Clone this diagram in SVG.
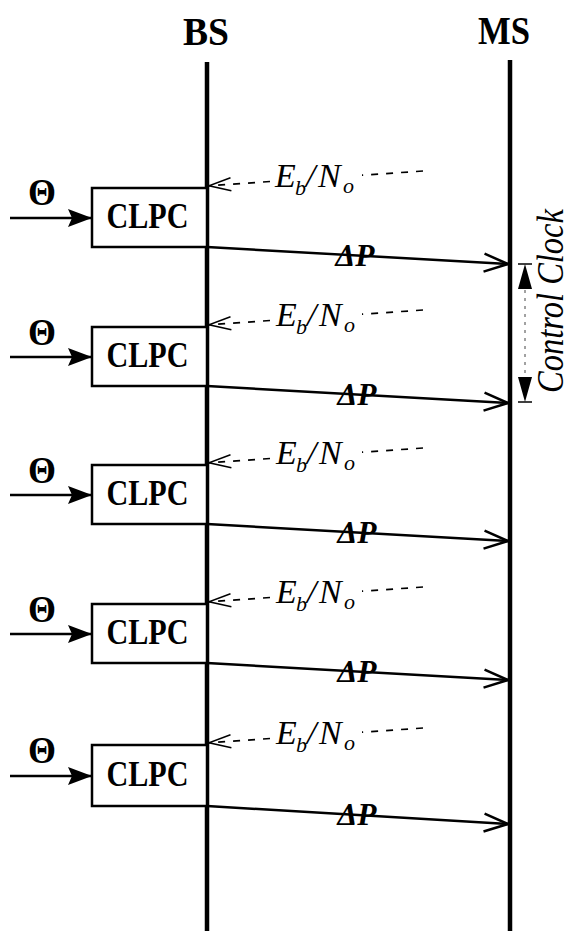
<svg xmlns="http://www.w3.org/2000/svg" width="574" height="931" viewBox="0 0 574 931">
<style>
  text { font-family: "Liberation Serif", "Times New Roman", serif; fill: #000; }
  .hdr { font-size: 39px; font-weight: bold; }
  .clpc { font-size: 36px; font-weight: bold; }
  .theta { font-size: 38px; font-weight: bold; }
  .it { font-style: italic; font-size: 34px; }
  .sub { font-style: italic; font-size: 22px; }
  .dp { font-style: italic; font-weight: bold; font-size: 32px; }
  .cc { font-style: italic; font-size: 37px; }
  .box { fill: #fff; stroke: #000; stroke-width: 2.5; }
  .life { stroke: #000; stroke-width: 4.5; fill: none; }
  .sol { stroke: #000; stroke-width: 2.5; fill: none; }
  .dash { stroke: #000; stroke-width: 1.7; fill: none; stroke-dasharray: 7 8; }
</style>
<defs>
  <marker id="solidHead" markerUnits="userSpaceOnUse" viewBox="0 0 24 20" markerWidth="24" markerHeight="20" refX="23" refY="10" orient="auto">
    <path d="M0,1 L24,10 L0,19 L4,10 z" fill="#000"/>
  </marker>
  <marker id="openHead" markerUnits="userSpaceOnUse" viewBox="-3 -3 30 24" markerWidth="30" markerHeight="24" refX="24" refY="9" orient="auto">
    <path d="M0,0 L24,9 L0,18" fill="none" stroke="#000" stroke-width="2.5"/>
  </marker>
  <marker id="thinOpen" markerUnits="userSpaceOnUse" viewBox="-2 -2 26 17" markerWidth="26" markerHeight="17" refX="22" refY="6.5" orient="auto">
    <path d="M0,0 L22,6.5 L0,13" fill="none" stroke="#000" stroke-width="1.5"/>
  </marker>
</defs>
<rect width="574" height="931" fill="#fff"/>

<g id="BS">
  <text class="hdr" x="206" y="45" text-anchor="middle" textLength="46" lengthAdjust="spacingAndGlyphs">BS</text>
  <line class="life" x1="207" y1="62" x2="207" y2="931"/>
</g>
<g id="MS">
  <text class="hdr" x="504" y="44" text-anchor="middle" textLength="52" lengthAdjust="spacingAndGlyphs">MS</text>
  <line class="life" x1="510" y1="60" x2="510" y2="931"/>
</g>

<g id="clpc1">
  <rect class="box" x="92" y="188" width="115" height="59"/>
  <text class="clpc" x="147.5" y="228" text-anchor="middle" textLength="82" lengthAdjust="spacingAndGlyphs">CLPC</text>
</g>
<g id="clpc2">
  <rect class="box" x="92" y="327" width="115" height="59"/>
  <text class="clpc" x="147.5" y="367" text-anchor="middle" textLength="82" lengthAdjust="spacingAndGlyphs">CLPC</text>
</g>
<g id="clpc3">
  <rect class="box" x="92" y="465" width="115" height="59"/>
  <text class="clpc" x="147.5" y="505" text-anchor="middle" textLength="82" lengthAdjust="spacingAndGlyphs">CLPC</text>
</g>
<g id="clpc4">
  <rect class="box" x="92" y="604" width="115" height="59"/>
  <text class="clpc" x="147.5" y="644" text-anchor="middle" textLength="82" lengthAdjust="spacingAndGlyphs">CLPC</text>
</g>
<g id="clpc5">
  <rect class="box" x="92" y="745" width="115" height="61"/>
  <text class="clpc" x="147.5" y="786" text-anchor="middle" textLength="82" lengthAdjust="spacingAndGlyphs">CLPC</text>
</g>

<g id="connectors">
  <!-- theta inputs -->
  <line class="sol" x1="10" y1="218" x2="91" y2="218" marker-end="url(#solidHead)"/>
  <line class="sol" x1="10" y1="357" x2="91" y2="357" marker-end="url(#solidHead)"/>
  <line class="sol" x1="10" y1="495" x2="91" y2="495" marker-end="url(#solidHead)"/>
  <line class="sol" x1="10" y1="634" x2="91" y2="634" marker-end="url(#solidHead)"/>
  <line class="sol" x1="10" y1="776" x2="91" y2="776" marker-end="url(#solidHead)"/>
  <!-- Delta P -->
  <line class="sol" x1="207" y1="247" x2="508" y2="264" marker-end="url(#openHead)"/>
  <line class="sol" x1="207" y1="386" x2="508" y2="403" marker-end="url(#openHead)"/>
  <line class="sol" x1="207" y1="524" x2="508" y2="541" marker-end="url(#openHead)"/>
  <line class="sol" x1="207" y1="663" x2="508" y2="680" marker-end="url(#openHead)"/>
  <line class="sol" x1="207" y1="806" x2="508" y2="824" marker-end="url(#openHead)"/>
  <!-- Eb/No dashed feedback -->
  <line class="dash" x1="423" y1="171" x2="362" y2="175.2"/>
  <line class="dash" x1="270" y1="181.5" x2="209" y2="185.8" marker-end="url(#thinOpen)"/>
  <line class="dash" x1="423" y1="310" x2="362" y2="314.2"/>
  <line class="dash" x1="270" y1="320.5" x2="209" y2="324.8" marker-end="url(#thinOpen)"/>
  <line class="dash" x1="423" y1="448" x2="362" y2="452.2"/>
  <line class="dash" x1="270" y1="458.5" x2="209" y2="462.8" marker-end="url(#thinOpen)"/>
  <line class="dash" x1="423" y1="587" x2="362" y2="591.2"/>
  <line class="dash" x1="270" y1="597.5" x2="209" y2="601.8" marker-end="url(#thinOpen)"/>
  <line class="dash" x1="423" y1="728" x2="362" y2="732.2"/>
  <line class="dash" x1="270" y1="738.5" x2="209" y2="742.8" marker-end="url(#thinOpen)"/>
</g>

<g id="labels">
  <text class="theta" x="42" y="205" text-anchor="middle" textLength="28" lengthAdjust="spacingAndGlyphs">Θ</text>
  <text class="theta" x="42" y="345" text-anchor="middle" textLength="28" lengthAdjust="spacingAndGlyphs">Θ</text>
  <text class="theta" x="42" y="483" text-anchor="middle" textLength="28" lengthAdjust="spacingAndGlyphs">Θ</text>
  <text class="theta" x="42" y="622" text-anchor="middle" textLength="28" lengthAdjust="spacingAndGlyphs">Θ</text>
  <text class="theta" x="42" y="763" text-anchor="middle" textLength="28" lengthAdjust="spacingAndGlyphs">Θ</text>

  <text class="dp" x="355" y="266" text-anchor="middle" textLength="39" lengthAdjust="spacingAndGlyphs">ΔP</text>
  <text class="dp" x="357" y="405" text-anchor="middle" textLength="39" lengthAdjust="spacingAndGlyphs">ΔP</text>
  <text class="dp" x="357" y="543" text-anchor="middle" textLength="39" lengthAdjust="spacingAndGlyphs">ΔP</text>
  <text class="dp" x="357" y="682" text-anchor="middle" textLength="39" lengthAdjust="spacingAndGlyphs">ΔP</text>
  <text class="dp" x="357" y="825" text-anchor="middle" textLength="39" lengthAdjust="spacingAndGlyphs">ΔP</text>

  <g id="ebno1"><text class="it" x="275" y="187">E</text><text class="sub" x="295" y="195">b</text><text class="it" x="306" y="187">/</text><text class="it" x="318" y="187">N</text><text class="sub" x="343" y="193">o</text></g>
  <g id="ebno2"><text class="it" x="276" y="326">E</text><text class="sub" x="296" y="334">b</text><text class="it" x="307" y="326">/</text><text class="it" x="319" y="326">N</text><text class="sub" x="344" y="332">o</text></g>
  <g id="ebno3"><text class="it" x="276" y="464">E</text><text class="sub" x="296" y="472">b</text><text class="it" x="307" y="464">/</text><text class="it" x="319" y="464">N</text><text class="sub" x="344" y="470">o</text></g>
  <g id="ebno4"><text class="it" x="276" y="603">E</text><text class="sub" x="296" y="611">b</text><text class="it" x="307" y="603">/</text><text class="it" x="319" y="603">N</text><text class="sub" x="344" y="609">o</text></g>
  <g id="ebno5"><text class="it" x="276" y="744">E</text><text class="sub" x="296" y="752">b</text><text class="it" x="307" y="744">/</text><text class="it" x="319" y="744">N</text><text class="sub" x="344" y="750">o</text></g>
</g>

<g id="controlClock">
  <line x1="518" y1="264" x2="532" y2="264" stroke="#000" stroke-width="1.5"/>
  <path d="M525,264 L518,289 L532,289 z" fill="#000"/>
  <line x1="525" y1="290" x2="525" y2="376" stroke="#444" stroke-width="1" stroke-dasharray="3 5"/>
  <path d="M525,402 L518,377 L532,377 z" fill="#000"/>
  <line x1="518" y1="402" x2="532" y2="402" stroke="#000" stroke-width="1.5"/>
  <text class="cc" transform="translate(563,301) rotate(-90)" text-anchor="middle" textLength="184" lengthAdjust="spacingAndGlyphs">Control Clock</text>
</g>
</svg>
